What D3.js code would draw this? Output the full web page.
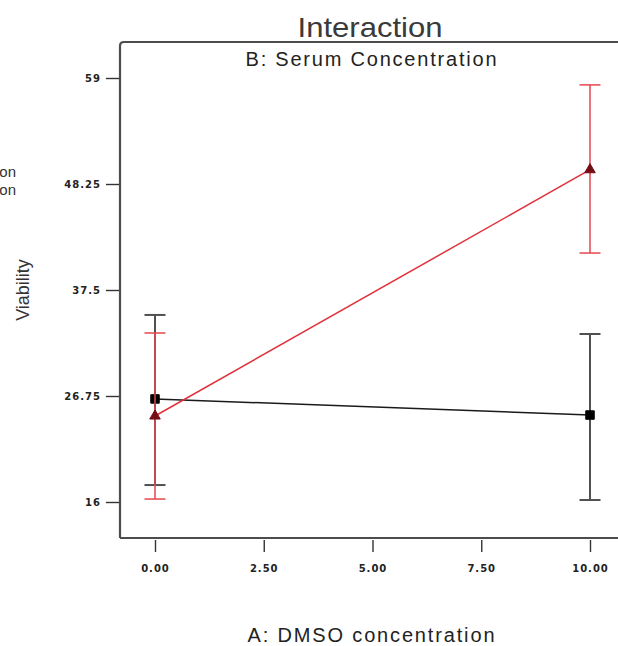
<!DOCTYPE html>
<html>
<head>
<meta charset="utf-8">
<script src="https://cdn.jsdelivr.net/npm/d3@7/dist/d3.min.js"></script>
<style>
  html, body { margin: 0; padding: 0; background: #fff; }
  svg { display: block; }
  .tick text { font-family: "DejaVu Sans", sans-serif; font-weight: bold; font-size: 10px; fill: #222; letter-spacing: 1px; }
</style>
</head>
<body>
<svg id="chart" width="618" height="646"></svg>
<script>
// Factor A levels (DMSO concentration)
const dmsoLevels = [0, 10];
// Factor B levels (serum concentration)
const serumLevels = ["B-", "B+"];
// Predicted viability at each DMSO level, per serum level
const viabilityLow = [26.45, 24.82];
const viabilityHigh = [24.72, 49.7];
// LSD interval bounds
const lowerLow = [17.72, 16.2];
const upperLow = [34.97, 33.04];
const lowerHigh = [16.3, 41.25];
const upperHigh = [33.14, 58.3];
// Axis tick values
const xTicks = [0, 2.5, 5, 7.5, 10];
const yTicks = [16, 26.75, 37.5, 48.25, 59];

const series = [
  { name: serumLevels[0], values: viabilityLow, lower: lowerLow, upper: upperLow,
    line: "#1a1a1a", bar: "#505050", barWidth: 2, marker: "square", fill: "#000", size: 72 },
  { name: serumLevels[1], values: viabilityHigh, lower: lowerHigh, upper: upperHigh,
    line: "#e2303a", bar: "#e6464f", barWidth: 1.5, marker: "triangle", fill: "#760c14", size: 48 }
];

const svg = d3.select("#chart");
const frameLeft = 120, frameTop = 42, frameBottom = 538;

const x = d3.scaleLinear().domain([0, 10]).range([155, 590]);
const y = d3.scaleLinear().domain([16, 59]).range([502, 78]);

// Plot frame (left, top and bottom edges; right edge runs off the page)
svg.append("path")
  .attr("d", `M${frameLeft},${frameBottom} L${frameLeft},${frameTop + 4} Q${frameLeft},${frameTop} ${frameLeft + 4},${frameTop} L640,${frameTop}`)
  .attr("fill", "none").attr("stroke", "#4d4d4d").attr("stroke-width", 2.2);
svg.append("line")
  .attr("x1", frameLeft).attr("x2", 640)
  .attr("y1", frameBottom).attr("y2", frameBottom)
  .attr("stroke", "#4d4d4d").attr("stroke-width", 2.2);

// Axes
const yAxis = svg.append("g")
  .attr("transform", `translate(${frameLeft - 1},0)`)
  .call(d3.axisLeft(y).tickValues(yTicks).tickSize(13).tickPadding(5)
    .tickFormat(d => String(d)));
yAxis.select(".domain").remove();
yAxis.selectAll(".tick line").attr("stroke", "#333").attr("stroke-width", 1.4);

const xAxis = svg.append("g")
  .attr("transform", `translate(0,${frameBottom + 2})`)
  .call(d3.axisBottom(x).tickValues(xTicks).tickSize(12).tickPadding(13)
    .tickFormat(d => d.toFixed(2)));
xAxis.select(".domain").remove();
xAxis.selectAll(".tick line").attr("stroke", "#333").attr("stroke-width", 1.4);

// Titles and labels
const font = "'Liberation Sans', Arial, sans-serif";
svg.append("text").attr("x", 370).attr("y", 37).attr("text-anchor", "middle")
  .attr("font-family", font).attr("font-size", 28).attr("fill", "#3a3a3a")
  .attr("textLength", 145).attr("lengthAdjust", "spacingAndGlyphs")
  .text("Interaction");
svg.append("text").attr("x", 371).attr("y", 66).attr("text-anchor", "middle")
  .attr("font-family", font).attr("font-size", 20).attr("fill", "#222")
  .attr("textLength", 251).attr("lengthAdjust", "spacing")
  .text("B: Serum Concentration");
svg.append("text").attr("x", 371).attr("y", 642).attr("text-anchor", "middle")
  .attr("font-family", font).attr("font-size", 20).attr("fill", "#222")
  .attr("textLength", 247).attr("lengthAdjust", "spacing")
  .text("A: DMSO concentration");
svg.append("text")
  .attr("transform", "translate(29,290) rotate(-90)")
  .attr("text-anchor", "middle")
  .attr("font-family", font).attr("font-size", 18).attr("fill", "#333")
  .text("Viability");

// Factor legend on the left, mostly beyond the page edge
svg.append("text").attr("x", 16).attr("y", 177).attr("text-anchor", "end")
  .attr("font-family", font).attr("font-size", 15).attr("fill", "#333")
  .text("X1 = A: DMSO concentration");
svg.append("text").attr("x", 16).attr("y", 195).attr("text-anchor", "end")
  .attr("font-family", font).attr("font-size", 15).attr("fill", "#333")
  .text("X2 = B: Serum Concentration");

// Series: error bars, connecting line, markers
const capHalf = 10.5;
series.forEach(s => {
  const g = svg.append("g");
  const pts = dmsoLevels.map((d, i) => ({ x: d, v: s.values[i], lo: s.lower[i], hi: s.upper[i] }));

  pts.forEach(p => {
    g.append("line").attr("x1", x(p.x)).attr("x2", x(p.x))
      .attr("y1", y(p.lo)).attr("y2", y(p.hi))
      .attr("stroke", s.bar).attr("stroke-width", s.barWidth);
    [p.lo, p.hi].forEach(b => {
      g.append("line").attr("x1", x(p.x) - capHalf).attr("x2", x(p.x) + capHalf)
        .attr("y1", y(b)).attr("y2", y(b))
        .attr("stroke", s.bar).attr("stroke-width", s.barWidth);
    });
  });

  g.append("path").datum(pts)
    .attr("d", d3.line().x(p => x(p.x)).y(p => y(p.v)))
    .attr("fill", "none").attr("stroke", s.line).attr("stroke-width", 1.5);

  const sym = s.marker === "square" ? d3.symbolSquare : d3.symbolTriangle;
  g.selectAll(".marker").data(pts).join("path")
    .attr("transform", p => `translate(${x(p.x)},${y(p.v)})`)
    .attr("d", d3.symbol().type(sym).size(s.size))
    .attr("fill", s.fill)
    .attr("stroke", s.fill).attr("stroke-width", 1).attr("stroke-linejoin", "round");
});
</script>
</body>
</html>
